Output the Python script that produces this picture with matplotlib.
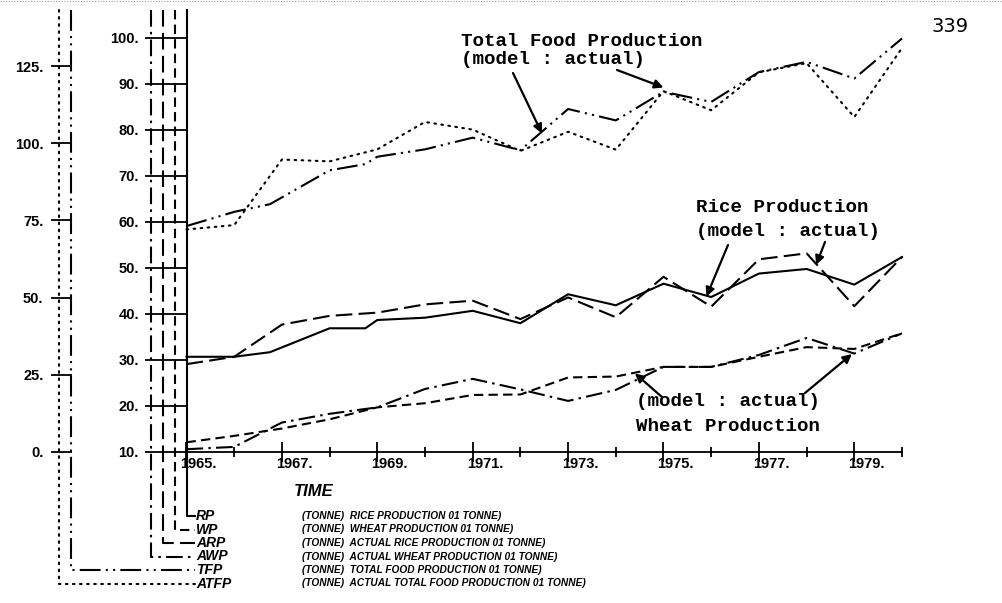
import matplotlib
matplotlib.use('Agg')
import matplotlib.pyplot as plt
from matplotlib.lines import Line2D
from matplotlib import transforms

# Dados (produção em toneladas)
years = list(range(1965, 1981))
model_years = [1965, 1966, 1966.75, 1968, 1968.75] + list(range(1969, 1981))

rp = [30.6, 30.6, 31.6, 36.8, 36.8, 38.6, 39.1, 40.6, 37.9, 44.2, 41.8,
      46.5, 43.6, 48.7, 49.7, 46.3, 52.3]
arp = [29.0, 30.6, 37.6, 39.5, 40.2, 42.0, 42.8, 38.8, 43.5, 39.2, 48.0,
       41.5, 51.8, 53.1, 41.6, 52.3]
wp = [12.0, 13.4, 15.0, 17.0, 19.6, 20.5, 22.3, 22.4, 26.1, 26.3, 28.4,
      28.4, 30.6, 32.7, 32.3, 35.7]
awp = [10.5, 11.0, 16.3, 18.2, 19.6, 23.6, 25.8, 23.5, 21.0, 23.4, 28.4,
       28.4, 31.0, 34.7, 31.3, 35.7]
tfp = [73.2, 77.8, 80.3, 91.3, 93.3, 95.7, 98.1, 101.9, 97.8, 111.2, 107.5,
       116.8, 113.5, 123.2, 126.5, 121.1, 134.1]
atfp = [72.1, 73.5, 94.8, 94.2, 98.1, 107.0, 104.5, 97.6, 103.8, 98.0, 117.0,
        110.8, 123.1, 126.1, 108.6, 131.0]

main_ticks = [10, 20, 30, 40, 50, 60, 70, 80, 90, 100]
food_ticks = [0, 25, 50, 75, 100, 125]
label_years = [1965, 1967, 1969, 1971, 1973, 1975, 1977, 1979]
minor_years = [1966, 1968, 1970, 1972, 1974, 1976, 1978, 1980]

legend_names = ['RP', 'WP', 'ARP', 'AWP', 'TFP', 'ATFP']
legend_texts = [
    '(TONNE)  RICE PRODUCTION 01 TONNE)',
    '(TONNE)  WHEAT PRODUCTION 01 TONNE)',
    '(TONNE)  ACTUAL RICE PRODUCTION 01 TONNE)',
    '(TONNE)  ACTUAL WHEAT PRODUCTION 01 TONNE)',
    '(TONNE)  TOTAL FOOD PRODUCTION 01 TONNE)',
    '(TONNE)  ACTUAL TOTAL FOOD PRODUCTION 01 TONNE)',
]

# Estilos de linha (um por variável)
styles = {
    'RP': '-',
    'WP': (0, (4.5, 2.5)),
    'ARP': (0, (8, 3)),
    'AWP': (0, (8, 2.5, 1.2, 2.5)),
    'TFP': (0, (10, 2.5, 1, 2.5, 1, 2.5)),
    'ATFP': (0, (0.8, 2.6)),
}

W, H = 1003, 603
LW = 1.5
plt.rcParams['font.family'] = ['Liberation Sans', 'DejaVu Sans']


def fx(px):
    return px / W


def fy(py):
    return 1 - py / H


fig = plt.figure(figsize=(W / 100, H / 100), dpi=100)
fig.patch.set_facecolor('white')

rect = [fx(186.5), fy(451.5), (902 - 186.5) / W, (451.5 - 37.7) / H]
ax = fig.add_axes(rect)
ax2 = fig.add_axes(rect, label='food')

# Eixo principal (arroz e trigo)
ax.set_xlim(1965, 1980)
ax.set_ylim(10, 100)
for side in ['top', 'right', 'left']:
    ax.spines[side].set_visible(False)
ax.spines['bottom'].set_linewidth(1.3)
ax.set_yticks(main_ticks, labels=[f'{v}.' for v in main_ticks])
ax.tick_params(axis='y', direction='out', length=42 * 0.72, width=1.3,
               pad=4, labelsize=10.5)
for lab in ax.get_yticklabels():
    lab.set_fontweight('bold')
ax.set_xticks(label_years, labels=[''] * len(label_years))
ax.set_xticks(minor_years, minor=True)
ax.tick_params(axis='x', which='major', direction='inout', length=20 * 0.72, width=1.3)
ax.tick_params(axis='x', which='minor', direction='inout', length=10 * 0.72, width=1.3)

# o "1" de cada ano fica sobre o traço, como no original
lab_tr = transforms.offset_copy(ax.get_xaxis_transform(), fig=fig, x=-6, y=-6, units='dots')
for yr in label_years:
    ax.text(yr, 0, f'{yr}.', transform=lab_tr, ha='left', va='top',
            fontsize=10.5, fontweight='bold')

# Eixo da produção total (escala 0-125)
ax2.set_xlim(1965, 1980)
ax2.set_ylim(0, (451.5 - 37.7) / 3.08)
ax2.patch.set_visible(False)
for side in ['top', 'right', 'bottom', 'left']:
    ax2.spines[side].set_visible(False)
ax2.spines['left'].set_position(('outward', (186.5 - 71.5) * 0.72))
ax2.set_xticks([])
ax2.set_yticks(food_ticks, labels=[f'{v}.' for v in food_ticks])
ax2.tick_params(axis='y', direction='out', length=21 * 0.72, width=1.3,
                pad=5, labelsize=10.5)
for lab in ax2.get_yticklabels():
    lab.set_fontweight('bold')

# Séries
ax.plot(model_years, rp, color='black', lw=LW, ls=styles['RP'], clip_on=False)
ax.plot(years, arp, color='black', lw=LW, ls=styles['ARP'], clip_on=False)
ax.plot(years, wp, color='black', lw=LW, ls=styles['WP'], clip_on=False)
ax.plot(years, awp, color='black', lw=LW, ls=styles['AWP'], clip_on=False)
ax2.plot(model_years, tfp, color='black', lw=LW, ls=styles['TFP'], clip_on=False)
ax2.plot(years, atfp, color='black', lw=LW, ls=styles['ATFP'],
         dash_capstyle='round', clip_on=False)

# Linhas verticais das escalas, que descem até a legenda
axis_x = {'RP': 186.5, 'WP': 175, 'ARP': 163.3, 'AWP': 151.5, 'TFP': 71.5, 'ATFP': 59}
row_y = [516, 529.5, 543, 556.5, 570, 583.5]
for name, yrow, desc in zip(legend_names, row_y, legend_texts):
    x0 = axis_x[name]
    line = Line2D([fx(x0), fx(x0), fx(195)], [fy(10), fy(yrow), fy(yrow)],
                  transform=fig.transFigure, color='black', lw=LW, ls=styles[name],
                  dash_capstyle='round' if name == 'ATFP' else 'butt')
    fig.add_artist(line)
    fig.text(fx(196), fy(yrow), name, ha='left', va='center', fontsize=10,
             fontweight='bold', style='italic')
    fig.text(fx(302), fy(yrow), desc, ha='left', va='center', fontsize=7.3,
             fontweight='bold', style='italic')

fig.text(fx(294), fy(492), 'TIME', ha='left', va='center', fontsize=12,
         fontweight='bold', style='italic')

# Anotações (texto de máquina de escrever)
mono = dict(family=['Liberation Mono', 'DejaVu Sans Mono'], fontweight='bold',
            fontsize=13.8, ha='left', va='center')
fig.text(fx(461), fy(41), 'Total Food Production', **mono)
fig.text(fx(461), fy(59.5), '(model : actual)', **mono)
fig.text(fx(696), fy(208), 'Rice Production', **mono)
fig.text(fx(696), fy(231.5), '(model : actual)', **mono)
fig.text(fx(636), fy(401.5), '(model : actual)', **mono)
fig.text(fx(636), fy(426.5), 'Wheat Production', **mono)

arrow = dict(arrowstyle='-|>', lw=1.6, color='black', mutation_scale=13,
             shrinkA=0, shrinkB=0)
ax2.annotate('', xy=(1972.45, 103.3), xytext=(513, H - 73),
             textcoords='figure pixels', arrowprops=arrow)
ax2.annotate('', xy=(1975.0, 118.2), xytext=(617, H - 70),
             textcoords='figure pixels', arrowprops=arrow)
ax.annotate('', xy=(1975.9, 43.7), xytext=(728, H - 245),
            textcoords='figure pixels', arrowprops=arrow)
ax.annotate('', xy=(1978.2, 50.6), xytext=(825, H - 242),
            textcoords='figure pixels', arrowprops=arrow)
ax.annotate('', xy=(1974.4, 27.0), xytext=(662, H - 397),
            textcoords='figure pixels', arrowprops=arrow)
ax.annotate('', xy=(1978.95, 31.2), xytext=(805, H - 393),
            textcoords='figure pixels', arrowprops=arrow)

# Número da página e borda pontilhada do scan
fig.text(fx(932), fy(26), '339', ha='left', va='center', fontsize=14,
         family='DejaVu Sans')
fig.add_artist(Line2D([0, 1], [fy(1), fy(1)], transform=fig.transFigure,
                      color='#9a9a9a', lw=0.8, ls=(0, (1, 1.5))))

fig.savefig('out.png', dpi=100)
